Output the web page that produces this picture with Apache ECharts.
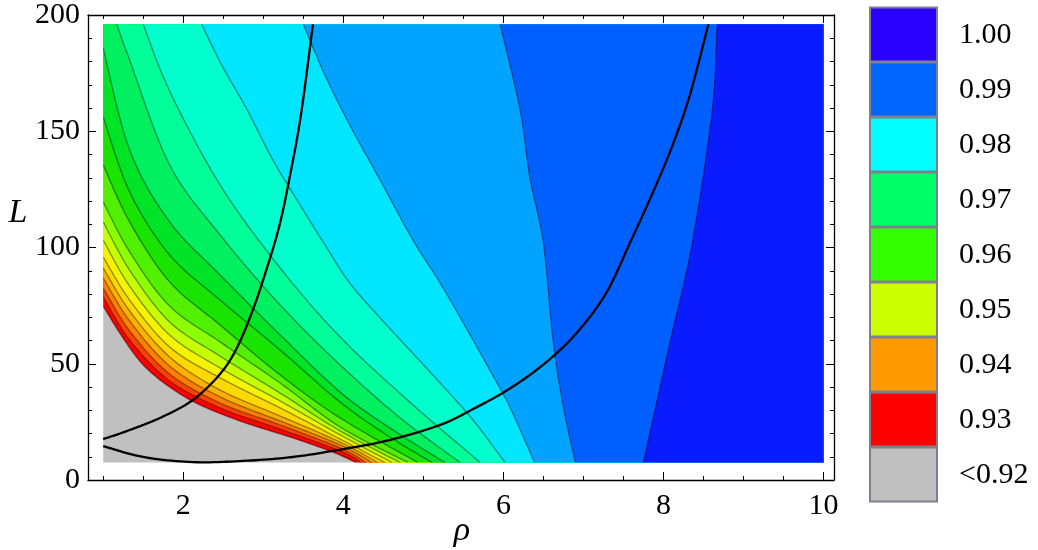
<!DOCTYPE html>
<html><head><meta charset="utf-8">
<script src="https://cdn.jsdelivr.net/npm/echarts@6/dist/echarts.min.js"></script>
<style>html,body{margin:0;padding:0;background:#fff}#c{width:1038px;height:550px}</style>
</head><body><div id="c"></div>
<script>
// ---- data region ----
const rhoRange = [1, 10];
const LRange = [7.5, 196];
// ---- contour boundaries (rho, L), ordered from lowest value to highest ----
const c01 = [[1,74.8],[1.24,61.5],[1.5,49.5],[1.83,40.0],[2.21,32.3],[2.75,24.9],[3.37,18.1],[3.87,12.0],[4.16,7.5]];
const c02 = [[1,78.7],[1.33,60.2],[1.83,42.6],[2.46,31.0],[3.21,21.9],[3.96,12.5],[4.22,7.5]];
const c03 = [[1,82.6],[1.33,64.1],[1.83,45.6],[2.46,33.1],[3.21,23.7],[3.96,13.8],[4.28,7.5]];
const c04 = [[1,86.9],[1.33,68.4],[1.83,49.0],[2.46,35.7],[3.21,25.4],[3.96,15.1],[4.36,7.5]];
const c05 = [[1,91.2],[1.33,72.7],[1.83,52.9],[2.46,38.7],[3.21,27.5],[3.96,16.3],[4.43,7.5]];
const c06 = [[1,95.9],[1.33,77.4],[1.83,57.2],[2.46,43.9],[3.21,31.0],[3.96,17.6],[4.52,7.5]];
const c07 = [[1,103.2],[1.33,83.4],[1.83,62.4],[2.46,48.2],[3.21,34.0],[3.96,19.4],[4.61,7.5]];
const c08 = [[1,111.0],[1.33,90.3],[1.83,68.0],[2.46,53.3],[3.21,37.4],[3.96,21.1],[4.71,7.5]];
const c09 = [[1,119.6],[1.33,98.1],[1.83,74.8],[2.46,59.4],[3.21,41.7],[3.96,22.8],[4.81,7.5]];
const c10 = [[1,135.5],[1.33,111.0],[1.83,85.2],[2.46,66.7],[3.21,45.2],[3.96,26.7],[4.93,7.5]];
const c11 = [[1,156.1],[1.33,123.9],[1.83,96.8],[2.46,77.4],[3.21,55.9],[3.96,33.5],[4.58,18.5],[5.11,7.5]];
const c12 = [[1,185.8],[1.33,141.9],[1.83,111.0],[2.46,88.2],[3.21,62.4],[3.96,37.8],[4.58,22.4],[5.27,7.5]];
const c13 = [[1.17,196],[1.33,180.6],[1.83,135.5],[2.46,105.4],[3.21,75.3],[3.96,49.5],[4.71,26.7],[5.46,7.5]];
const c14 = [[1.5,196],[1.83,167.3],[2.46,126.9],[3.21,91.2],[3.96,61.5],[4.83,33.5],[5.71,7.5]];
const c15 = [[2.23,196],[2.48,178.5],[2.80,159.1],[3.12,137.6],[3.46,118.3],[3.77,101.1],[4.08,84.7],[4.46,69.7],[4.83,55.9],[5.21,41.7],[5.62,25.8],[6.02,7.5]];
const c16 = [[3.50,196],[3.77,174.2],[4.08,152.7],[4.46,129.0],[4.87,103.2],[5.21,84.7],[5.55,64.5],[5.83,47.3],[6.08,31.4],[6.39,7.5]];
const c17 = [[5.96,196],[6.21,159.1],[6.33,130.3],[6.50,101.9],[6.62,60.2],[6.75,31.4],[6.90,7.5]];
const c18 = [[8.67,196],[8.61,159.1],[8.36,101.9],[8.08,58.9],[7.75,7.5]];
const boundaries = [c01,c02,c03,c04,c05,c06,c07,c08,c09,c10,c11,c12,c13,c14,c15,c16,c17,c18];
// band colours: index 0 = below first boundary
const bandColors = ['#c0c0c0','#ff0000','#ff4000','#ff8000','#ffb000','#ffd800','#f4f400','#c8ff00','#8cff00',
  '#50f000','#18e400','#00e428','#00f060','#00ff99','#00ffcc','#00e6ff','#00a4ff','#0060ff','#0a1cff'];
// ---- black curves ----
const curveA = [[1.0,17.6],[1.30,21.1],[1.71,26.7],[2.12,34.4],[2.46,45.6],[2.67,56.8],[2.86,72.3],[3.03,89.5],[3.20,109.2],[3.33,130.3],[3.47,157.0],[3.62,196]];
const curveB = [[1.0,14.6],[1.50,9.9],[2.12,7.7],[2.75,8.2],[3.37,9.9],[4.0,13.3],[4.58,17.2],[5.21,23.7],[5.62,30.5],[6.05,38.7],[6.46,48.6],[6.87,61.5],[7.27,79.6],[7.58,101.9],[7.87,123.9],[8.11,143.7],[8.33,165.6],[8.56,196]];
// ---- axes ----
const xMajor = [2,4,6,8,10];
const xMinor = [1,1.5,2.5,3,3.5,4.5,5,5.5,6.5,7,7.5,8.5,9,9.5];
const xLabels = ['2','4','6','8','10'];
// ---- legend ----
const legendLabels = ['1.00','0.99','0.98','0.97','0.96','0.95','0.94','0.93','<0.92'];
const legendColors = ['#2a00ff','#0066ff','#00ffff','#00ff66','#33ff00','#ccff00','#ff9900','#ff0000','#c0c0c0'];

const FONT = '"Liberation Serif", "DejaVu Serif", serif';

function catmull(pts, n) {
  if (pts.length < 3) return pts.slice();
  const out = [];
  for (let i = 0; i < pts.length - 1; i++) {
    const p0 = pts[i - 1] || pts[i], p1 = pts[i], p2 = pts[i + 1], p3 = pts[i + 2] || pts[i + 1];
    for (let t = 0; t < n; t++) {
      const s = t / n, s2 = s * s, s3 = s2 * s;
      const f = (a, b, c, d) => 0.5 * (2 * b + (-a + c) * s + (2 * a - 5 * b + 4 * c - d) * s2 + (-a + 3 * b - 3 * c + d) * s3);
      out.push([f(p0[0], p1[0], p2[0], p3[0]), f(p0[1], p1[1], p2[1], p3[1])]);
    }
  }
  out.push(pts[pts.length - 1]);
  return out;
}

function regionClip(api) {
  const a = api.coord([rhoRange[0], LRange[1]]), b = api.coord([rhoRange[1], LRange[0]]);
  return {type: 'rect', shape: {x: a[0], y: a[1], width: b[0] - a[0], height: b[1] - a[1]}};
}

const chart = echarts.init(document.getElementById('c'), null, {renderer: 'canvas'});

const tickLine = {color: '#000', width: 1};
function xAx(pos, vals, len, showLine, labels) {
  return {
    type: 'value', position: pos, min: 0.81, max: 10.13,
    axisLine: {show: showLine, onZero: false, lineStyle: {color: '#000', width: 1.3}},
    axisTick: {show: true, inside: true, length: len, customValues: vals, lineStyle: tickLine},
    axisLabel: labels ? {show: true, customValues: xMajor, formatter: v => xLabels[xMajor.indexOf(v)] ?? String(v),
      fontFamily: FONT, fontSize: 30, color: '#000', margin: 11} : {show: false},
    splitLine: {show: false}
  };
}
function yAx(pos, labels) {
  return {
    type: 'value', position: pos, min: 0, max: 200, interval: 50,
    axisLine: {show: true, onZero: false, lineStyle: {color: '#000', width: 1.3}},
    axisTick: {show: true, inside: true, length: 8, lineStyle: tickLine},
    minorTick: {show: true, splitNumber: 5, length: 4, lineStyle: tickLine},
    axisLabel: labels ? {show: true, fontFamily: FONT, fontSize: 30, color: '#000', margin: 8} : {show: false},
    splitLine: {show: false}, minorSplitLine: {show: false}
  };
}

const graphics = [];
legendLabels.forEach((lab, i) => {
  const top = 7.5 + i * 55;
  graphics.push({type: 'rect', x: 870, y: top, shape: {width: 67, height: 54},
    style: {fill: legendColors[i], stroke: '#80808e', lineWidth: 2}});
  graphics.push({type: 'text', x: 959, y: top + 28, style: {text: lab, font: '30px ' + FONT,
    fill: '#000', align: 'left', verticalAlign: 'middle'}});
});
graphics.push({type: 'text', x: 18, y: 213, style: {text: 'L', font: 'italic 34px ' + FONT, fill: '#000', align: 'center', verticalAlign: 'middle'}});
graphics.push({type: 'text', x: 462, y: 531, style: {text: 'ρ', font: 'italic 34px ' + FONT, fill: '#000', align: 'center', verticalAlign: 'middle'}});

function curveSeries(pts) {
  return {
    type: 'custom', xAxisIndex: 0, yAxisIndex: 0, z: 5, silent: true,
    data: [pts[0]],
    renderItem: (params, api) => ({
      type: 'polyline', shape: {points: catmull(pts.map(p => api.coord(p)), 12)},
      style: {stroke: '#000', lineWidth: 2.3, fill: null}
    })
  };
}

const option = {
  animation: false,
  backgroundColor: '#fff',
  grid: {left: 88, right: 204, top: 15, bottom: 70, containLabel: false},
  xAxis: [xAx('bottom', xMajor, 8, true, true), xAx('bottom', xMinor, 4, false, false),
          xAx('top', xMajor, 8, true, false), xAx('top', xMinor, 4, false, false)],
  yAxis: [yAx('left', true), yAx('right', false)],
  graphic: graphics,
  series: [
    {
      type: 'custom', xAxisIndex: 0, yAxisIndex: 0, z: 1, silent: true,
      data: [[rhoRange[0], LRange[0]]],
      renderItem: (params, api) => {
        const c = regionClip(api);
        return {type: 'rect', shape: c.shape, style: {fill: bandColors[0]}};
      }
    },
    {
      type: 'custom', xAxisIndex: 0, yAxisIndex: 0, z: 2, silent: true,
      data: boundaries.map((b, k) => [b[0][0], b[0][1], k]),
      renderItem: (params, api) => {
        const k = api.value(2);
        const curve = boundaries[k];
        const pix = catmull(curve.map(p => api.coord(p)), 12);
        const poly = pix.slice();
        poly.push(api.coord([rhoRange[1], LRange[0]]), api.coord([rhoRange[1], LRange[1]]));
        if (curve[0][0] <= rhoRange[0] + 1e-9) poly.push(api.coord([rhoRange[0], LRange[1]]));
        return {
          type: 'group', clipPath: regionClip(api),
          children: [
            {type: 'polygon', shape: {points: poly}, style: {fill: bandColors[k + 1], stroke: bandColors[k + 1], lineWidth: 0.5}},
            {type: 'polyline', shape: {points: pix}, style: {stroke: 'rgba(0,0,0,0.4)', lineWidth: 1.4, fill: null}}
          ]
        };
      }
    },
    curveSeries(curveA),
    curveSeries(curveB)
  ]
};
chart.setOption(option);
</script></body></html>
